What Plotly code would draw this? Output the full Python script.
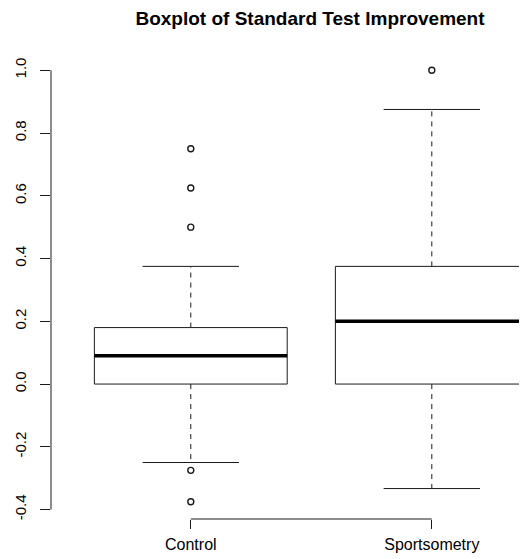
import plotly.graph_objects as go

# ---- data ----
groups = ["Control", "Sportsometry"]
q1 = [0.0, 0.0]
medians = [0.09, 0.2]
q3 = [0.18, 0.375]
lower_whisker = [-0.25, -0.333]
upper_whisker = [0.375, 0.875]
outliers = [
    [0.75, 0.625, 0.5, -0.275, -0.375],
    [1.0],
]
y_ticks = [-0.4, -0.2, 0.0, 0.2, 0.4, 0.6, 0.8, 1.0]
title_text = "Boxplot of Standard Test Improvement"

positions = [i + 1 for i in range(len(groups))]
box_half = 0.4
cap_half = 0.2

line_col = "#1a1a1a"

box_x, box_y = [], []
med_x, med_y = [], []
wd_x, wd_y = [], []
cap_x, cap_y = [], []
out_x, out_y = [], []
for p, a, m, b, lo, hi, outs in zip(positions, q1, medians, q3, lower_whisker, upper_whisker, outliers):
    box_x += [p - box_half, p + box_half, p + box_half, p - box_half, p - box_half, None]
    box_y += [a, a, b, b, a, None]
    med_x += [p - box_half, p + box_half, None]
    med_y += [m, m, None]
    wd_x += [p, p, None, p, p, None]
    wd_y += [b, hi, None, a, lo, None]
    cap_x += [p - cap_half, p + cap_half, None, p - cap_half, p + cap_half, None]
    cap_y += [hi, hi, None, lo, lo, None]
    out_x += [p] * len(outs)
    out_y += list(outs)

fig = go.Figure()
fig.add_trace(go.Scatter(x=wd_x, y=wd_y, mode="lines",
                         line=dict(color=line_col, width=1, dash="5px,5px"), hoverinfo="skip"))
fig.add_trace(go.Scatter(x=cap_x, y=cap_y, mode="lines",
                         line=dict(color=line_col, width=1), hoverinfo="skip"))
fig.add_trace(go.Scatter(x=box_x, y=box_y, mode="lines",
                         line=dict(color=line_col, width=1), hoverinfo="skip"))
fig.add_trace(go.Scatter(x=med_x, y=med_y, mode="lines",
                         line=dict(color="black", width=3.5), hoverinfo="skip"))
fig.add_trace(go.Scatter(x=out_x, y=out_y, mode="markers",
                         marker=dict(symbol="circle-open", size=6, color=line_col,
                                     line=dict(width=1.4)), hoverinfo="skip"))

all_vals = lower_whisker + upper_whisker + [v for o in outliers for v in o]
ymin, ymax = min(all_vals), max(all_vals)
pad = 0.04 * (ymax - ymin)
x_lo = 0.5 - 0.04 * len(groups)

# axis lines spanning only the tick range, as in base R
fig.add_shape(type="line", xref="paper", yref="y", x0=0, x1=0,
              y0=y_ticks[0], y1=y_ticks[-1], line=dict(color=line_col, width=1))
fig.add_shape(type="line", xref="x", yref="paper", x0=positions[0], x1=positions[-1],
              y0=0, y1=0, line=dict(color=line_col, width=1))

W, H = 519, 551  # page body adds an 8px margin
fig.update_layout(
    width=W, height=H,
    margin=dict(l=43, r=0, t=45, b=40),
    paper_bgcolor="white", plot_bgcolor="white",
    showlegend=False,
    font=dict(family="Liberation Sans, Arial, sans-serif", color="black"),
    title=dict(text="<b>" + title_text + "</b>", x=302 / W, xref="container", xanchor="center",
               y=1 - 10 / H, yref="container", yanchor="middle",
               font=dict(size=19, color="black")),
    xaxis=dict(range=[x_lo, 2.395], tickvals=positions, ticktext=groups,
               showgrid=False, zeroline=False, showline=False, automargin=False,
               ticks="outside", ticklen=9, tickcolor=line_col, tickwidth=1,
               tickfont=dict(size=16), ticklabelstandoff=2),
    yaxis=dict(range=[ymin - pad, ymax + pad], tickvals=y_ticks,
               ticktext=[f"{v:.1f}" for v in y_ticks],
               showgrid=False, zeroline=False, showline=False, automargin=False,
               ticks="outside", ticklen=10, tickcolor=line_col, tickwidth=1,
               tickangle=-90, tickfont=dict(size=15), ticklabelstandoff=8),
)

fig.write_html("out.html")
